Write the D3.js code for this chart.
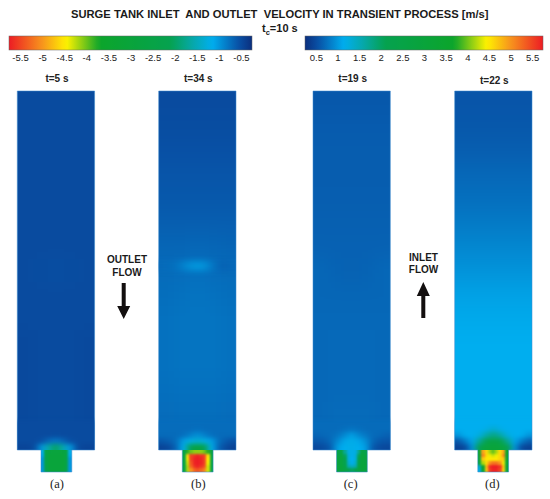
<!DOCTYPE html>
<meta charset="utf-8">
<style>
body { margin: 0; background: #fff; }
text { font-family: "Liberation Sans", Arial, sans-serif; fill: #1a1a1a; }
.title { font-size: 11.2px; font-weight: bold; white-space: pre; }
.tc { font-size: 11px; font-weight: bold; }
.tlabel { font-size: 10px; font-weight: bold; fill: #222; }
.flow { font-size: 10px; font-weight: bold; }
.letter { font-family: "Liberation Serif", serif; font-size: 12.5px; fill: #222; }
.bar text { font-size: 9.5px; fill: #222; font-family: "Liberation Sans", Arial, sans-serif; }
.bar .domain { display: none; }
</style>
<svg width="550" height="499"></svg>
<script src="https://d3js.org/d3.v7.min.js"></script>
<script>

// colour legend (speed in m/s, the outlet bar is the same thing mirrored)
var colorValues = [0.25, 0.55, 1.15, 1.6, 2.1, 3.7, 4.45, 5.0, 5.75];
var colorStops = ["#0b2f7e", "#0850a5", "#00aeef", "#06a8a8", "#05a24f", "#0ca52b", "#fff200", "#f7941d", "#ed1c24"];
var outletTicks = [-5.5, -5, -4.5, -4, -3.5, -3, -2.5, -2, -1.5, -1, -0.5];
var inletTicks = [0.5, 1, 1.5, 2, 2.5, 3, 3.5, 4, 4.5, 5, 5.5];

var panelNames = ["(a)", "(b)", "(c)", "(d)"];
var panelTimes = ["t=5 s", "t=34 s", "t=19 s", "t=22 s"];

// upper part of the tank, 14 rows top to bottom, 5 columns
var upperA = [
  [.5,.5,.5,.5,.5],[.5,.5,.5,.5,.5],[.5,.5,.5,.5,.5],[.5,.5,.5,.5,.5],
  [.5,.5,.5,.5,.5],[.5,.5,.5,.5,.5],[.5,.5,.5,.5,.5],[.5,.52,.53,.52,.5],
  [.5,.5,.5,.5,.5],[.5,.5,.5,.5,.5],[.49,.5,.5,.5,.49],[.49,.5,.5,.5,.49],
  [.49,.5,.5,.5,.49],[.49,.5,.5,.5,.49]
];
var upperB = [
  [.5,.5,.5,.5,.5],[.52,.52,.52,.52,.52],[.55,.55,.55,.55,.55],[.58,.58,.58,.58,.58],
  [.6,.6,.6,.6,.6],[.64,.64,.64,.64,.64],[.69,.69,.7,.69,.68],[.72,.73,.75,.73,.72],
  [.74,.76,.78,.76,.74],[.76,.78,.78,.78,.76],[.76,.78,.78,.78,.76],[.76,.78,.78,.78,.76],
  [.75,.76,.76,.76,.75],[.73,.74,.74,.74,.73]
];
var upperC = [
  [.6,.6,.6,.6,.6],[.62,.62,.62,.62,.62],[.63,.63,.63,.63,.63],[.63,.63,.63,.63,.63],
  [.64,.64,.64,.64,.64],[.65,.65,.65,.65,.65],[.66,.66,.66,.66,.66],[.7,.67,.66,.67,.7],
  [.69,.69,.69,.69,.69],[.7,.7,.7,.7,.7],[.7,.71,.71,.71,.7],[.7,.71,.71,.71,.7],
  [.7,.71,.71,.71,.7],[.7,.72,.72,.72,.7]
];
var upperD = [
  [.58,.58,.58,.58,.58],[.6,.6,.6,.6,.6],[.64,.64,.64,.64,.64],[.7,.7,.7,.7,.7],
  [.75,.75,.75,.75,.75],[.82,.82,.82,.82,.82],[.9,.9,.9,.9,.9],[.98,.98,.98,.98,.98],
  [1.07,1.07,1.07,1.07,1.07],[1.12,1.12,1.12,1.12,1.12],[1.15,1.15,1.15,1.15,1.15],[1.15,1.15,1.15,1.15,1.15],
  [1.15,1.15,1.15,1.15,1.15],[1.15,1.15,1.15,1.15,1.15]
];

// the flat light streak across panel b at mid height, 2 rows, 9 columns
var streakB = [
  [.72,.74,.82,.96,1.02,.96,.76,.64,.7],
  [.72,.74,.82,.94,1,.94,.76,.66,.7]
];

// tank bottom just above the neck, 5 rows, 11 columns
var lowerA = [
  [.5,.5,.5,.5,.5,.5,.5,.5,.5,.5,.5],
  [.5,.5,.5,.5,.5,.5,.5,.5,.5,.5,.5],
  [.5,.5,.5,.5,.5,.52,.5,.5,.5,.5,.5],
  [.5,.5,.5,.55,.7,.8,.7,.55,.5,.5,.5],
  [.45,.45,.5,1,1.6,2,1.6,1,.5,.45,.45]
];
var lowerB = [
  [.73,.73,.73,.73,.73,.73,.73,.73,.73,.73,.73],
  [.73,.73,.73,.73,.73,.75,.73,.73,.73,.73,.73],
  [.72,.72,.72,.75,.85,.95,.85,.75,.72,.72,.72],
  [.6,.65,.74,1.05,1.25,1.35,1.25,1.05,.74,.62,.55],
  [.45,.5,.7,1.15,2.2,2.8,2.2,1.15,.68,.5,.42]
];
var lowerC = [
  [.72,.72,.72,.72,.72,.72,.72,.72,.72,.72,.72],
  [.72,.72,.72,.72,.75,.78,.75,.72,.72,.72,.72],
  [.68,.7,.72,.78,.9,1.05,.9,.8,.72,.7,.66],
  [.6,.62,.7,.9,1.1,1.2,1.1,.95,.7,.6,.58],
  [.48,.52,.62,1.05,1.15,1.2,1.15,1.05,.62,.5,.48]
];
var lowerD = [
  [1.15,1.15,1.15,1.15,1.15,1.15,1.15,1.15,1.15,1.15,1.15],
  [1.15,1.15,1.15,1.15,1.2,1.35,1.2,1.15,1.15,1.15,1.15],
  [1,1.15,1.15,1.25,1.6,1.8,1.6,1.25,1.15,1.15,1],
  [.6,.85,1.1,1.7,2.3,2.5,2.3,1.7,1.1,.85,.65],
  [.42,.5,1,2.4,2.9,3.1,2.9,2.4,1,.5,.42]
];

// the neck itself, 6 rows, 9 columns
var neckA = [
  [1.2,2.4,2.8,2.9,2.9,2.9,2.8,2.4,1.2],
  [1.1,2.4,3,3,3,3,3,2.4,1.1],
  [1,2.4,3,3,3,3,3,2.4,1],
  [1,2.4,3,3,3,3,3,2.4,1],
  [1,2.3,3,3,3,3,3,2.3,1],
  [1,2.3,2.9,3,3,3,2.9,2.3,1]
];
var neckB = [
  [2.6,3.8,4,4.1,4.1,4.1,4,3.8,2.6],
  [2.8,4.6,5.5,5.6,5.7,5.6,5.5,4.6,2.8],
  [2.6,4.4,5.5,5.7,5.75,5.7,5.5,4.5,2.6],
  [2.6,4.3,5.4,5.7,5.75,5.7,5.5,4.4,2.6],
  [2.6,4.2,5.3,5.6,5.7,5.6,5.4,4.3,2.6],
  [2.5,4.2,5,5.3,5.4,5.3,5.1,4.3,2.4]
];
var neckC = [
  [2.2,2.6,1.7,1.25,1.2,1.25,1.7,2.6,2.2],
  [2.6,2.9,2,1.3,1.2,1.3,2,2.9,2.6],
  [2.8,2.9,2.1,1.3,1.15,1.3,2.1,2.9,2.8],
  [2.8,2.9,2.1,1.4,1.2,1.4,2.2,2.9,2.8],
  [2.9,3,2.4,1.6,1.5,1.6,2.4,3,2.9],
  [2.8,3,2.6,2.2,2,2.2,2.7,3,2.8]
];
var neckD = [
  [3.6,4.9,4.6,4.2,4,4.2,4.6,4.9,3.6],
  [3.4,5.1,4.6,4.4,4.3,4.4,4.6,5.1,3.5],
  [3,4.7,4.5,4.5,4.5,4.5,4.6,4.7,3.2],
  [2.6,4.2,4.6,5,5.2,5.2,5,4.4,2.9],
  [1.4,3.4,4.8,5.6,5.75,5.75,5.6,4.7,3],
  [1.2,3.2,4.7,5.5,5.7,5.7,5.5,4.6,2.8]
];

var uppers = [upperA, upperB, upperC, upperD];
var lowers = [lowerA, lowerB, lowerC, lowerD];
var necks = [neckA, neckB, neckC, neckD];

// layout
var tankLeft = [17.3, 158.7, 313, 454.7], tankWidth = 77.3;
var neckLeft = [41, 182.3, 336.5, 477.8], neckWidth = 30.8;
var tankTop = 91, splitY = 420, tankBottom = 450, neckBottom = 472;
var timeY = [82, 82, 82, 84];

var svg = d3.select("svg");
var defs = svg.append("defs");

var color = d3.scaleLinear().domain(colorValues).range(colorStops).clamp(true);

function blurFilter(id, sx, sy) {
  // sRGB here, the default linearRGB leaves visible bands in the dark blues
  defs.append("filter").attr("id", id)
      .attr("color-interpolation-filters", "sRGB")
      .attr("x", "-30%").attr("y", "-60%").attr("width", "160%").attr("height", "220%")
    .append("feGaussianBlur").attr("stdDeviation", sx + " " + sy);
}
blurFilter("blurUpper", 7, 11);
blurFilter("blurStreak", 4, 3);
blurFilter("blurLower", 3, 2.2);
blurFilter("blurNeck", 1, 1);

// one block of coloured cells, edge cells are stretched so the blur has no fade at the walls
function drawCells(parent, grid, x0, x1, y0, y1, filterId, bleedTop, bleedBottom) {
  var x = d3.scaleBand().domain(d3.range(grid[0].length)).range([x0, x1]);
  var y = d3.scaleBand().domain(d3.range(grid.length)).range([y0, y1]);
  var bleed = 30;
  var nc = grid[0].length, nr = grid.length;
  var g = parent.append("g").attr("filter", "url(#" + filterId + ")");
  grid.forEach(function(row, r) {
    var top = r == 0 && bleedTop ? bleed : 0;
    var bottom = r == nr - 1 && bleedBottom ? bleed : 0;
    g.selectAll(null)
      .data(row).enter()
      .append("rect")
      .attr("shape-rendering", "crispEdges")
      .attr("x", function(d, c) { return x(c) - (c == 0 ? bleed : 0); })
      .attr("width", function(d, c) { return x.bandwidth() + 0.5 + (c == 0 || c == nc - 1 ? bleed : 0); })
      .attr("y", y(r) - top)
      .attr("height", y.bandwidth() + (r < nr - 1 ? 0.5 : 0) + top + bottom)
      .attr("fill", function(d) { return color(d); });
  });
}

panelNames.forEach(function(name, i) {
  var left = tankLeft[i], right = left + tankWidth;
  var nl = neckLeft[i], nr = nl + neckWidth;

  defs.append("clipPath").attr("id", "tank" + i).append("rect")
      .attr("x", left).attr("y", tankTop).attr("width", tankWidth).attr("height", tankBottom - tankTop);
  defs.append("clipPath").attr("id", "neck" + i).append("rect")
      .attr("x", nl).attr("y", tankBottom).attr("width", neckWidth).attr("height", neckBottom - tankBottom);

  var tank = svg.append("g").attr("clip-path", "url(#tank" + i + ")");
  drawCells(tank, uppers[i], left, right, tankTop, splitY + 6, "blurUpper", true, true);
  if (i == 1) drawCells(tank, streakB, left, right, 261, 271, "blurStreak", false, false);
  drawCells(tank, lowers[i], left, right, splitY, tankBottom, "blurLower", false, true);

  var neck = svg.append("g").attr("clip-path", "url(#neck" + i + ")");
  drawCells(neck, necks[i], nl, nr, tankBottom, neckBottom, "blurNeck", true, true);

  // thin light wall line round the whole shape
  var p = d3.path();
  p.moveTo(left, tankTop); p.lineTo(right, tankTop); p.lineTo(right, tankBottom);
  p.lineTo(nr, tankBottom); p.lineTo(nr, neckBottom); p.lineTo(nl, neckBottom);
  p.lineTo(nl, tankBottom); p.lineTo(left, tankBottom); p.closePath();
  svg.append("path").attr("d", p.toString())
      .attr("fill", "none").attr("stroke", "#3f8ccf").attr("stroke-width", 0.7).attr("stroke-opacity", 0.75);

  svg.append("text").attr("class", "tlabel").attr("text-anchor", "middle")
      .attr("x", left + tankWidth / 2 + 1).attr("y", timeY[i]).text(panelTimes[i]);
  svg.append("text").attr("class", "letter").attr("text-anchor", "middle")
      .attr("x", left + tankWidth / 2 + (i < 2 ? 1 : -1)).attr("y", 488).text(name);
});

// colour bars
function drawBar(id, x0, x1, domain, ticks) {
  var x = d3.scaleLinear().domain(domain).range([x0, x1]);
  var steps = d3.range(0, 1.0001, 0.02);
  var grad = defs.append("linearGradient").attr("id", id);
  grad.selectAll("stop").data(steps).enter().append("stop")
      .attr("offset", function(d) { return d; })
      .attr("stop-color", function(d) { return color(Math.abs(x.invert(x0 + d * (x1 - x0)))); });

  var g = svg.append("g").attr("class", "bar");
  g.append("rect").attr("x", x0).attr("y", 36).attr("width", x1 - x0).attr("height", 14)
      .attr("fill", "url(#" + id + ")").attr("stroke", "#666").attr("stroke-width", 0.5);
  g.append("g").attr("transform", "translate(0,50)")
      .call(d3.axisBottom(x).tickValues(ticks).tickSize(0).tickPadding(4).tickFormat(function(d) { return d; }));
}
drawBar("barOut", 9, 252, [-5.75, -0.25], outletTicks);
drawBar("barIn", 305, 543, [0.25, 5.75], inletTicks);

// headings
svg.append("text").attr("class", "title").attr("x", 71).attr("y", 18)
    .text("SURGE TANK INLET  AND OUTLET  VELOCITY IN TRANSIENT PROCESS [m/s]");
var tc = svg.append("text").attr("class", "tc").attr("x", 262).attr("y", 32);
tc.append("tspan").text("t");
tc.append("tspan").attr("dy", 2.5).attr("font-size", "7.5px").text("c");
tc.append("tspan").attr("dy", -2.5).text("=10 s");

// flow notes
function flowNote(lines, cx, y1, y2) {
  lines.forEach(function(t, i) {
    svg.append("text").attr("class", "flow").attr("text-anchor", "middle")
        .attr("x", cx).attr("y", i == 0 ? y1 : y2).text(t);
  });
}
flowNote(["OUTLET", "FLOW"], 127, 263, 276);
flowNote(["INLET", "FLOW"], 423.5, 261, 273);

function arrow(cx, tail, base, tip) {
  var p = d3.path();
  p.moveTo(cx - 2, tail); p.lineTo(cx + 2, tail); p.lineTo(cx + 2, base);
  p.lineTo(cx + 6.5, base); p.lineTo(cx, tip); p.lineTo(cx - 6.5, base);
  p.lineTo(cx - 2, base); p.closePath();
  svg.append("path").attr("d", p.toString()).attr("fill", "#130f0f");
}
arrow(123.7, 283, 306, 319);
arrow(423.3, 318, 296, 282);

</script>
